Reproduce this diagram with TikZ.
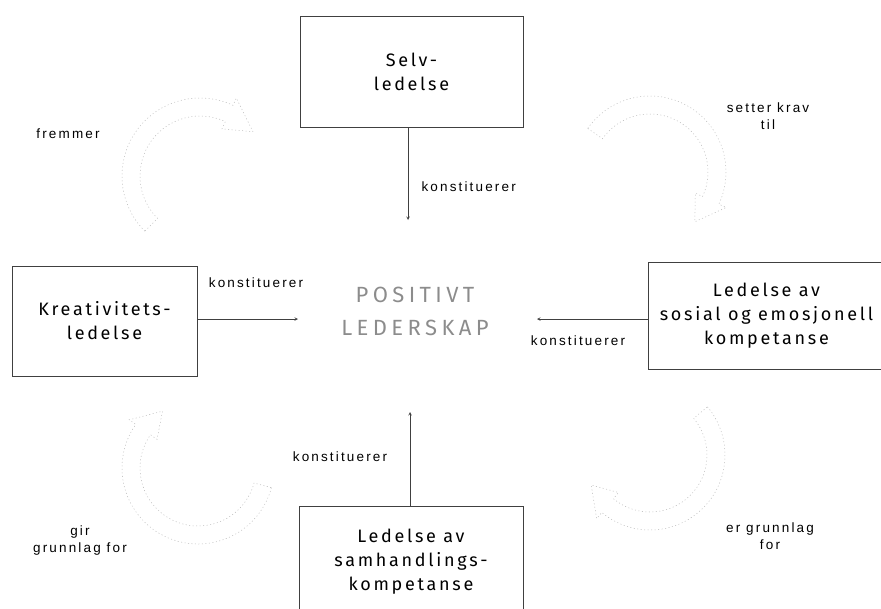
\documentclass[tikz,border=0pt]{standalone}
\usepackage{fontspec}
\setmainfont{Liberation Sans}
\newfontfamily\boxfont[LetterSpace=15]{Fira Sans}
\newfontfamily\labelfont[LetterSpace=16]{Liberation Sans}

\begin{document}
\begin{tikzpicture}[x=1pt, y=-1pt,
  box/.style={draw=black!75, line width=0.6pt, align=center, font=\boxfont\fontsize{18}{24}\selectfont},
  rel/.style={align=center, font=\labelfont\fontsize{13.5}{17}\selectfont},
  link/.style={draw=black!75, line width=0.6pt, ->, >=stealth},
  loopline/.style={draw=black!28, line width=0.5pt, dash pattern=on 1pt off 2.5pt}]
\useasboundingbox (0,0) rectangle (881,608);
% the four boxes
\node[box, minimum width=223pt, minimum height=111pt] (selv) at (411.5,71.5) {Selv-\\ledelse};
\node[box, minimum width=185pt, minimum height=110pt] (krea) at (104.5,321) {Kreativitets-\\ledelse};
\node[box, minimum width=237pt, minimum height=107pt] (sosial) at (766.5,315.5) {Ledelse av\\sosial og emosjonell\\kompetanse};
\node[box, minimum width=224pt, minimum height=111pt] (samh) at (411,561.5) {Ledelse av\\samhandlings-\\kompetanse};
% centre
\node[align=center, text=black!45, font=\boxfont\addfontfeature{LetterSpace=20}\fontsize{22}{33}\selectfont] (pos) at (415,311) {POSITIVT\\LEDERSKAP};
\coordinate (posN) at (408,220);
\coordinate (posW) at (298,319);
\coordinate (posE) at (537,319);
\coordinate (posS) at (410,412);
% konstituerer
\draw[link] (selv.south -| posN) -- (posN);
\draw[link] (krea.east |- posW) -- (posW);
\draw[link] (sosial.west |- posE) -- (posE);
\draw[link] (samh.north -| posS) -- (posS);
\node[rel, anchor=west] (kN) at (418,187) {konstituerer};
\node[rel] (kW) at (256,283) {konstituerer};
\node[rel] (kE) at (578,341) {konstituerer};
\node[rel] (kS) at (340,457) {konstituerer};
% the cycle round the centre
\coordinate (tl) at (200,176);
\draw[loopline] ([shift={(135:78)}]tl) arc[start angle=135, end angle=295, radius=78]
  -- ([shift={(295:86)}]tl) -- ([shift={(320:69)}]tl) -- ([shift={(295:52)}]tl)
  -- ([shift={(295:60)}]tl) arc[start angle=295, end angle=135, radius=60] -- cycle;
\coordinate (tr) at (650,172);
\draw[loopline] ([shift={(215:76)}]tr) arc[start angle=215, end angle=385, radius=76]
  -- ([shift={(385:84)}]tr) -- ([shift={(408:67)}]tr) -- ([shift={(385:50)}]tr)
  -- ([shift={(385:58)}]tr) arc[start angle=385, end angle=215, radius=58] -- cycle;
\coordinate (br) at (650,455);
\draw[loopline] ([shift={(-40:75)}]br) arc[start angle=-40, end angle=130, radius=75]
  -- ([shift={(130:83)}]br) -- ([shift={(153:66)}]br) -- ([shift={(130:49)}]br)
  -- ([shift={(130:57)}]br) arc[start angle=130, end angle=-40, radius=57] -- cycle;
\coordinate (bl) at (198,468);
\draw[loopline] ([shift={(15:76)}]bl) arc[start angle=15, end angle=215, radius=76]
  -- ([shift={(215:84)}]bl) -- ([shift={(238:67)}]bl) -- ([shift={(215:50)}]bl)
  -- ([shift={(215:58)}]bl) arc[start angle=215, end angle=15, radius=58] -- cycle;
\node[rel] (fremmer) at (68,134) {fremmer};
\node[rel] (krav) at (768,116) {setter krav\\til};
\node[rel] (gir) at (80,541) {gir\\grunnlag for};
\node[rel] (er) at (770,536) {er grunnlag\\for};
\end{tikzpicture}
\end{document}
